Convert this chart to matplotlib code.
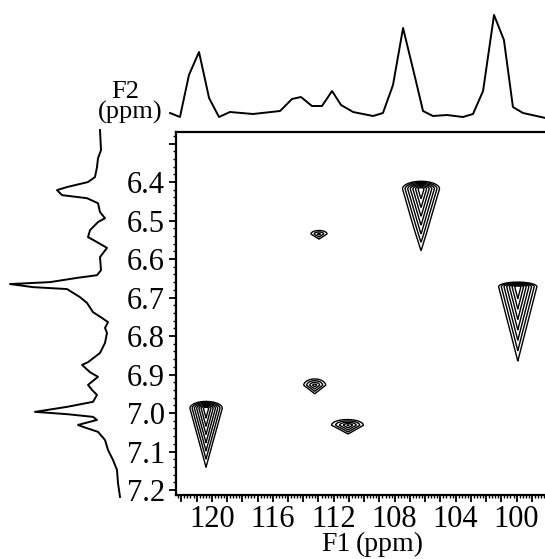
import numpy as np
import matplotlib
matplotlib.use("Agg")
import matplotlib.pyplot as plt
from matplotlib.ticker import MultipleLocator, FuncFormatter

plt.rcParams['font.family'] = ['Liberation Serif', 'DejaVu Serif']

# ---------------- data ----------------
# axis ranges (ppm)
f1_range = (122.35, 98.07)   # 13C, left -> right
f2_range = (7.213, 6.27)     # 1H, bottom -> top

# top projection (F1 / 13C trace)
top_ppm = [122.74, 122.09, 121.50, 120.84, 120.18, 119.53, 118.81, 117.30, 115.52,
           114.74, 114.15, 113.43, 112.77, 112.11, 111.52, 110.73, 109.42, 108.77,
           108.11, 107.45, 106.67, 106.14, 105.49, 104.57, 103.52, 102.86, 102.20,
           101.48, 100.83, 100.24, 99.58, 98.10]
top_int = [17, 13, 55, 78, 32, 13, 18, 16, 19, 31, 33, 24, 24, 39, 25, 18, 14, 17,
           45, 102, 53, 19, 14, 15, 13, 16, 39, 115, 90, 23, 17, 12]

# left projection (F2 / 1H trace)
left_ppm = [6.265, 6.317, 6.338, 6.361, 6.387, 6.400, 6.413, 6.421, 6.434, 6.442,
            6.455, 6.478, 6.494, 6.504, 6.525, 6.543, 6.556, 6.571, 6.595, 6.629,
            6.642, 6.649, 6.660, 6.665, 6.673, 6.678, 6.699, 6.714, 6.738, 6.753,
            6.764, 6.779, 6.792, 6.818, 6.844, 6.868, 6.875, 6.894, 6.906, 6.927,
            6.940, 6.953, 6.971, 6.984, 6.997, 7.003, 7.010, 7.018, 7.031, 7.036,
            7.049, 7.070, 7.096, 7.122, 7.148, 7.182, 7.218]
left_int = [30, 29, 32, 33, 35, 42, 63, 73, 68, 43, 32, 30, 25, 32, 40, 42, 33, 23,
            30, 29, 33, 53, 80, 120, 97, 63, 50, 43, 37, 28, 22, 25, 23, 25, 30, 42,
            48, 40, 32, 42, 38, 33, 37, 63, 95, 63, 37, 33, 52, 47, 32, 25, 22, 17,
            13, 12, 10]

# cross peaks: position, depth below max level, outer half-width (F1), outer extent up / down (F2)
peak_f1 = [120.38, 112.97, 113.25, 111.06, 106.27, 99.92]
peak_f2 = [6.988, 6.535, 6.928, 7.032, 6.418, 6.672]
peak_depth = [0.0, 0.66, 0.50, 0.42, 0.0, 0.0]
peak_halfw = [1.05, 0.52, 0.69, 0.98, 1.21, 1.25]
peak_up = [0.018, 0.009, 0.016, 0.014, 0.020, 0.012]
peak_down = [0.153, 0.013, 0.020, 0.022, 0.160, 0.193]

x_major_labels = [120, 116, 112, 108, 104, 100]
y_major_labels = [6.4, 6.5, 6.6, 6.7, 6.8, 6.9, 7.0, 7.1, 7.2]

# ---------------- figure ----------------
W, H = 545, 559
fig = plt.figure(figsize=(W / 100, H / 100), dpi=100)


def px_rect(x0, y0, x1, y1):
    return [x0 / W, 1 - y1 / H, (x1 - x0) / W, (y1 - y0) / H]


ax = fig.add_axes(px_rect(176, 132, 546, 495))
ax_top = fig.add_axes(px_rect(176, 0, 546, 130))
ax_left = fig.add_axes(px_rect(0, 132, 130, 495))

# contour field built from the peak list
xg = np.linspace(f1_range[0], f1_range[1], 1000)
yg = np.linspace(f2_range[1], f2_range[0], 1000)
X, Y = np.meshgrid(xg, yg)
Z = np.zeros_like(X)
for x0, y0, dep, hw, up, dn in zip(peak_f1, peak_f2, peak_depth, peak_halfw, peak_up, peak_down):
    dout = 1.0 - dep
    sx, su, sd = hw / dout, up / dout, dn / dout
    dx = np.abs(X - x0) / sx
    dy = Y - y0
    d = np.where(dy < 0, np.sqrt(dx ** 2 + (dy / su) ** 2), dx + dy / sd)
    Z += np.exp(-dep) * np.exp(-d)

levels = np.exp(-np.linspace(1.0, 0.16, 7))
ax.contour(X, Y, Z, levels=levels, colors='black', linewidths=1.0)

ax.set_xlim(*f1_range)
ax.set_ylim(*f2_range)
ax.spines['right'].set_visible(False)
for s in ax.spines.values():
    s.set_linewidth(1.6)

ax.xaxis.set_major_locator(MultipleLocator(1))
ax.xaxis.set_minor_locator(MultipleLocator(0.2))
ax.xaxis.set_major_formatter(FuncFormatter(
    lambda v, p: f"{int(round(v))}" if int(round(v)) in x_major_labels and abs(v - round(v)) < 1e-6 else ""))
ax.yaxis.set_major_locator(MultipleLocator(0.1))
ax.yaxis.set_minor_locator(MultipleLocator(0.02))
ax.yaxis.set_major_formatter(FuncFormatter(
    lambda v, p: f"{v:.1f}" if any(abs(v - t) < 1e-6 for t in y_major_labels) else ""))
ax.tick_params(axis='both', which='major', direction='out', length=5, width=1.3,
               labelsize=22, pad=3)
ax.tick_params(axis='both', which='minor', direction='out', length=2.5, width=1.0)
ax.tick_params(axis='x', which='major', pad=2)
ax.tick_params(top=False, right=False)

# projections
ax_top.plot(top_ppm, top_int, color='black', lw=1.4, clip_on=False)
ax_top.set_xlim(*f1_range)
ax_top.set_ylim(0, 130)
ax_top.axis('off')

ax_left.plot(left_int, left_ppm, color='black', lw=1.4, clip_on=False)
ax_left.set_xlim(130, 0)
ax_left.set_ylim(*f2_range)
ax_left.axis('off')

# axis titles
fig.text(125 / W, 1 - 98 / H, "F2", ha='center', va='baseline', fontsize=19)
fig.text(130 / W, 1 - 119 / H, "(ppm)", ha='center', va='baseline', fontsize=19)
fig.text(336 / W, 1 - 551 / H, "F1", ha='center', va='baseline', fontsize=20)
fig.text(356 / W, 1 - 551 / H, "(ppm)", ha='left', va='baseline', fontsize=20)

fig.savefig("out.png", dpi=100)
